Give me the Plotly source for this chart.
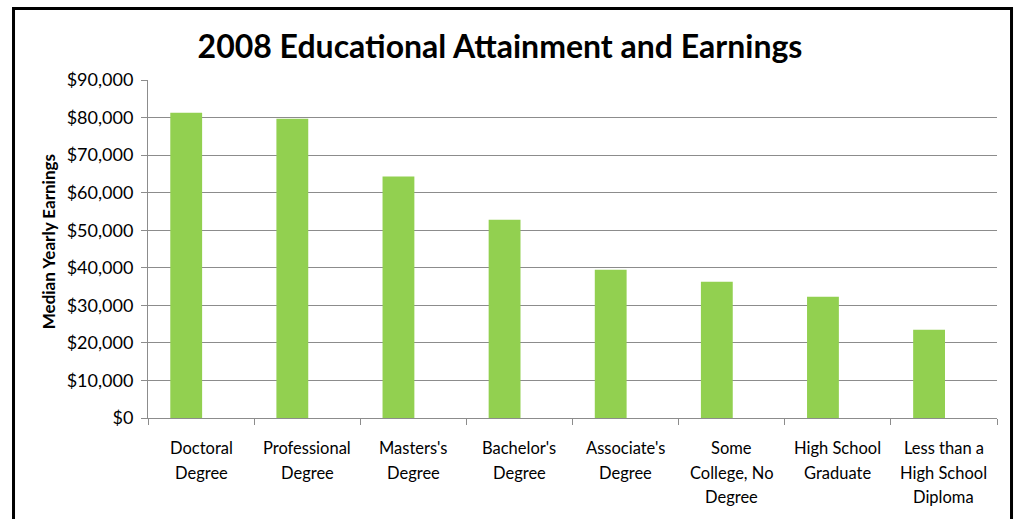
import plotly.graph_objects as go

# Median yearly earnings by highest level of education, 2008
categories = [
    "Doctoral Degree",
    "Professional Degree",
    "Masters's Degree",
    "Bachelor's Degree",
    "Associate's Degree",
    "Some College, No Degree",
    "High School Graduate",
    "Less than a High School Diploma",
]
label_lines = [
    ["Doctoral", "Degree"],
    ["Professional", "Degree"],
    ["Masters's", "Degree"],
    ["Bachelor's", "Degree"],
    ["Associate's", "Degree"],
    ["Some", "College, No", "Degree"],
    ["High School", "Graduate"],
    ["Less than a", "High School", "Diploma"],
]
earnings = [81300, 79700, 64300, 52800, 39500, 36300, 32300, 23500]
y_ticks = list(range(0, 90001, 10000))
y_tick_text = ["${:,}".format(v) for v in y_ticks]

FONT = "Lato, 'Open Sans', sans-serif"
GRID = "#8c8c8c"

fig = go.Figure(
    go.Bar(
        x=categories,
        y=earnings,
        width=0.30,
        offset=-0.29,
        marker=dict(color="#92d050", line=dict(width=0)),
        hoverinfo="x+y",
    )
)

# Category labels drawn line by line below the axis
annotations = []
for cat, lines in zip(categories, label_lines):
    for i, line in enumerate(lines):
        annotations.append(
            dict(
                x=cat, xref="x", y=0, yref="paper",
                text=line, showarrow=False,
                xanchor="center", yanchor="middle",
                yshift=-30 - 24.5 * i,
                font=dict(family=FONT, size=16.5, color="#000000"),
            )
        )

# Y-axis title
annotations.append(
    dict(
        x=0, xref="paper", y=0.52, yref="paper",
        xshift=-100, text="<b>Median Yearly Earnings</b>",
        textangle=-90, showarrow=False,
        xanchor="center", yanchor="middle",
        font=dict(family=FONT, size=17, color="#000000"),
    )
)

fig.update_layout(
    width=1019,
    height=519,
    margin=dict(l=148, r=22, t=80, b=101),
    paper_bgcolor="white",
    plot_bgcolor="white",
    showlegend=False,
    title=dict(
        text="<b>2008 Educational Attainment and Earnings</b>",
        x=0.4907, xanchor="center",
        y=0.909, yanchor="middle",
        font=dict(family=FONT, size=32, color="#000000"),
    ),
    font=dict(family=FONT, color="#000000"),
    annotations=annotations,
    shapes=[
        dict(
            type="rect", xref="paper", yref="paper",
            x0=-0.1584, x1=1.0171, y0=-0.33, y1=1.2115,
            line=dict(color="#000000", width=3),
            fillcolor="rgba(0,0,0,0)",
            layer="above",
        )
    ],
)

fig.update_xaxes(
    type="category",
    showticklabels=False,
    showgrid=False,
    showline=True,
    linecolor=GRID,
    linewidth=1,
    ticks="outside",
    tickson="boundaries",
    ticklen=6,
    tickcolor=GRID,
    range=[-0.5, 7.5],
)

fig.update_yaxes(
    range=[0, 90000],
    tickvals=y_ticks,
    ticktext=y_tick_text,
    tickfont=dict(family=FONT, size=18, color="#000000"),
    ticklabelstandoff=4,
    showgrid=True,
    gridcolor=GRID,
    gridwidth=1,
    showline=True,
    linecolor=GRID,
    linewidth=1,
    ticks="outside",
    ticklen=6,
    tickcolor=GRID,
    zeroline=False,
)

fig.write_html("out.html")
